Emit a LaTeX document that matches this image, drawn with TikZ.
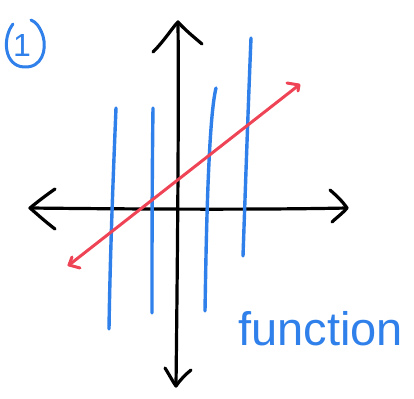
\documentclass[tikz,border=0pt]{standalone}
\usepackage{fontspec}
\setmainfont{Liberation Sans}
\definecolor{penblue}{HTML}{2F80EA}
\definecolor{penred}{HTML}{EE4455}
\tikzset{
  axis/.style={draw=black, line width=3.2pt, line cap=round, line join=round},
  vline/.style={draw=penblue, line width=3.4pt, line cap=round},
  redline/.style={draw=penred, line width=3pt, line cap=round, line join=round},
  label/.style={text=penblue, inner sep=0pt, anchor=base west}
}
\begin{document}
\begin{tikzpicture}[x=1pt,y=-1pt]
\useasboundingbox (0,0) rectangle (414,398);
% coordinates
\coordinate (vtop) at (178,22);
\coordinate (vbot) at (176,386);
\coordinate (hleft) at (30,208);
\coordinate (hright) at (347,208);
\coordinate (rA) at (69,265);
\coordinate (rB) at (299,85);
% vertical axis
\draw[axis] (vtop) .. controls (179,120) and (177,300) .. (vbot);
\draw[axis] (153,52) .. controls (165,40) and (172,28) .. (vtop) .. controls (185,30) and (195,38) .. (202,44);
\draw[axis] (165,368) .. controls (170,376) and (173,382) .. (vbot) .. controls (180,380) and (186,374) .. (191,370);
% horizontal axis
\draw[axis] (hleft) .. controls (120,209) and (250,210) .. (hright);
\draw[axis] (55,189) .. controls (45,196) and (36,203) .. (hleft) .. controls (38,215) and (47,223) .. (55,229);
\draw[axis] (330,190) .. controls (337,196) and (343,202) .. (hright) .. controls (342,214) and (336,218) .. (332,222);
% blue verticals
\draw[vline] (116,108) .. controls (113,180) and (110,260) .. (109,329);
\draw[vline] (153,108) .. controls (152,180) and (152,250) .. (152,313);
\draw[vline] (216,88) .. controls (208,120) and (206,250) .. (205,311);
\draw[vline] (251,38) .. controls (248,110) and (245,200) .. (243,256);
% red line
\draw[redline] (rA) -- (rB);
\draw[redline] (287,83) -- (rB) -- (298,91);
\draw[redline] (72,257) -- (rA) -- (80,268);
% circled 1
\node[text=penblue, font=\fontsize{32}{32}\selectfont, inner sep=0pt] (one) at (22,45) {1};
\draw[penblue, line width=3pt, line cap=round] (13,24) .. controls (2,38) and (4,66) .. (24,67) .. controls (42,68) and (47,50) .. (43,36) .. controls (40,27) and (36,22) .. (31,20);
% label
\node[label, font=\fontsize{47}{47}\selectfont] (fn) at (238,345) {function};
\end{tikzpicture}
\end{document}
